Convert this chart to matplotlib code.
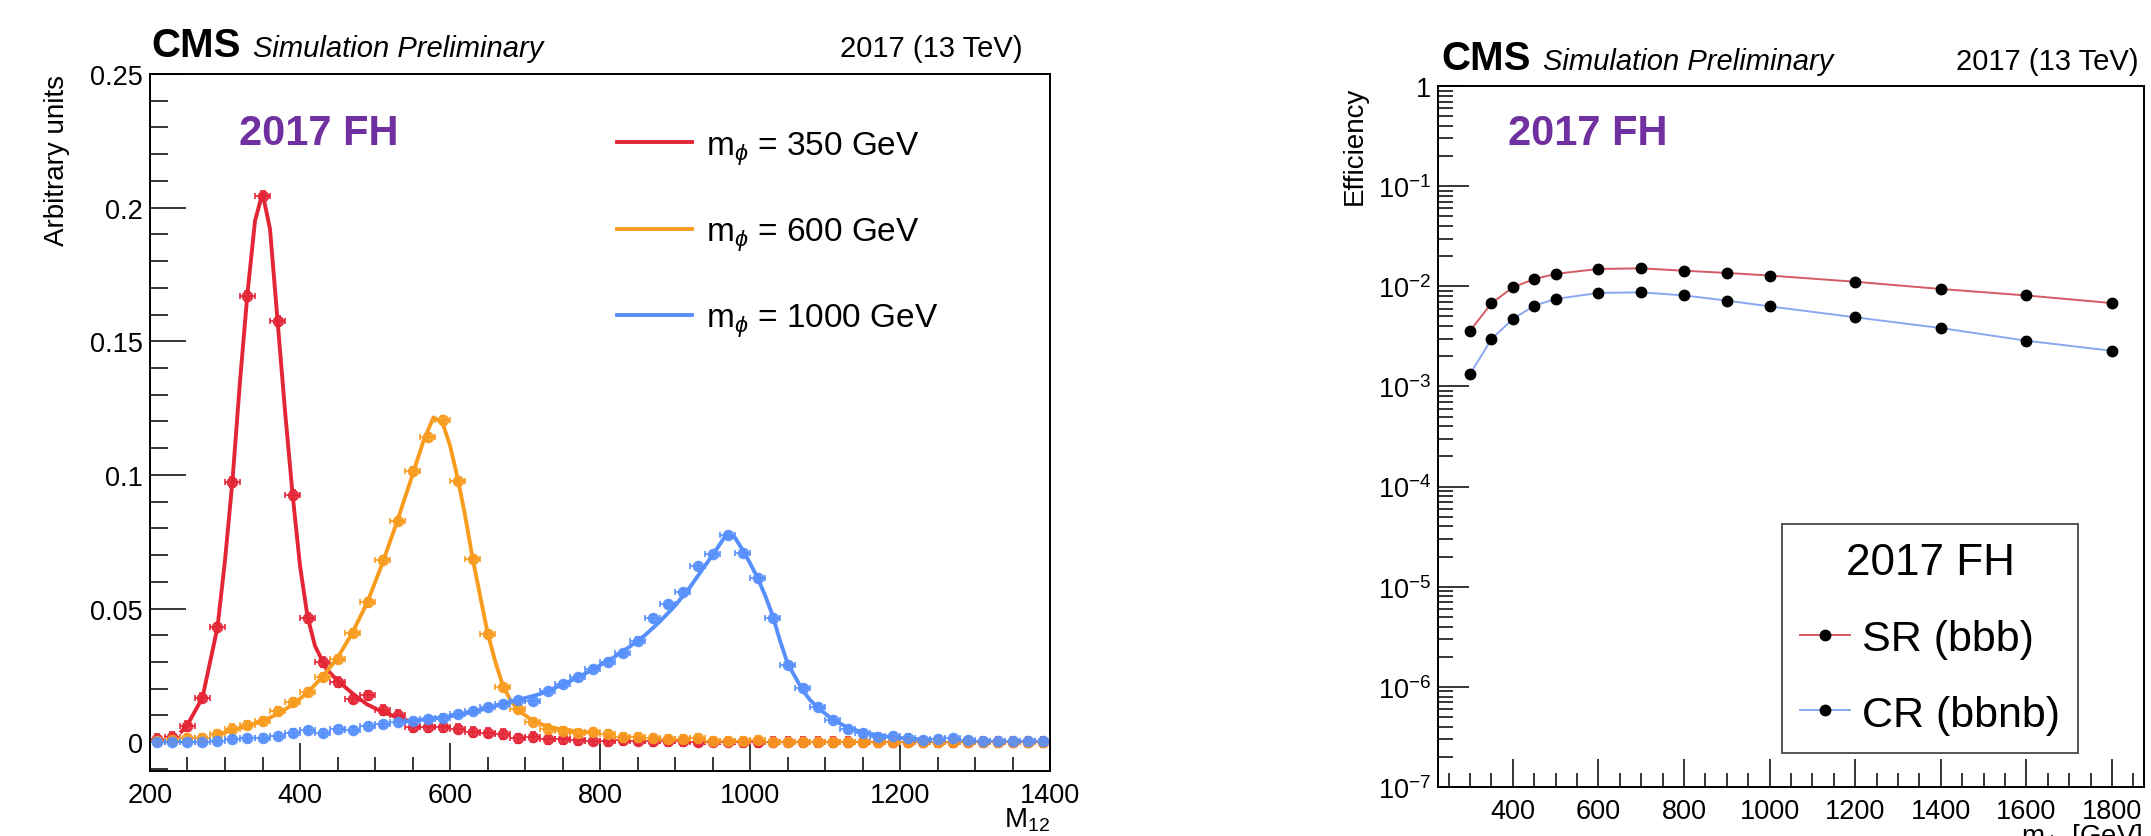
import matplotlib
matplotlib.use('Agg')
import matplotlib.pyplot as plt
from matplotlib.ticker import MultipleLocator, FixedLocator, FuncFormatter, LogLocator, NullFormatter
import numpy as np

plt.rcParams['font.family'] = ['Liberation Sans', 'DejaVu Sans']
plt.rcParams['mathtext.fontset'] = 'custom'
plt.rcParams['mathtext.rm'] = 'Liberation Sans'
plt.rcParams['mathtext.it'] = 'Liberation Sans:italic'
plt.rcParams['mathtext.bf'] = 'Liberation Sans:bold'

# ---- left panel: M12 shapes, 20 GeV bins from 200 to 1400 ----
binCenters = np.arange(210, 1400, 20)

m350 = [0.0011, 0.0020, 0.0060, 0.0167, 0.0429, 0.0974, 0.1669, 0.2043, 0.1576, 0.0925,
        0.0464, 0.0300, 0.0226, 0.0163, 0.0175, 0.0121, 0.0101, 0.0055, 0.0057, 0.0055,
        0.0051, 0.0039, 0.0036, 0.0030, 0.0014, 0.0020, 0.0011, 0.0011, 0.0009, 0.0006,
        0.0004, 0.0008, 0.0006, 0.0004, 0.0003, 0.0003, 0.0002, 0.0002, 0.0002, 0.0001,
        0.0001, 0.0001, 0.0001, 0.0001, 0.0001, 0.0001, 0.0000, 0.0000, 0.0000, 0.0000,
        0.0000, 0.0000, 0.0000, 0.0000, 0.0000, 0.0000, 0.0000, 0.0000, 0.0000, 0.0000]
m600 = [0.0005, 0.0007, 0.0014, 0.0017, 0.0030, 0.0051, 0.0064, 0.0080, 0.0117, 0.0151,
        0.0186, 0.0242, 0.0310, 0.0407, 0.0525, 0.0681, 0.0828, 0.1015, 0.1142, 0.1205,
        0.0978, 0.0687, 0.0404, 0.0207, 0.0123, 0.0076, 0.0051, 0.0042, 0.0036, 0.0039,
        0.0032, 0.0021, 0.0021, 0.0014, 0.0011, 0.0011, 0.0016, 0.0005, 0.0005, 0.0005,
        0.0007, 0.0002, 0.0002, 0.0002, 0.0002, 0.0002, 0.0002, 0.0002, 0.0001, 0.0001,
        0.0001, 0.0001, 0.0001, 0.0001, 0.0001, 0.0001, 0.0001, 0.0001, 0.0001, 0.0001]
m1000 = [0.0001, 0.0001, 0.0001, 0.0002, 0.0005, 0.0011, 0.0015, 0.0017, 0.0024, 0.0036,
         0.0046, 0.0036, 0.0049, 0.0046, 0.0059, 0.0067, 0.0074, 0.0080, 0.0086, 0.0092,
         0.0105, 0.0117, 0.0130, 0.0142, 0.0158, 0.0155, 0.0192, 0.0217, 0.0242, 0.0273,
         0.0298, 0.0334, 0.0380, 0.0463, 0.0516, 0.0560, 0.0660, 0.0703, 0.0774, 0.0706,
         0.0616, 0.0466, 0.0288, 0.0202, 0.0132, 0.0082, 0.0049, 0.0034, 0.0021, 0.0024,
         0.0017, 0.0007, 0.0011, 0.0014, 0.0009, 0.0005, 0.0005, 0.0003, 0.0003, 0.0003]
binErr = {'350': 0.0018, '600': 0.0015, '1000': 0.0012}

# fitted curves
fit350X = [242, 250, 270, 290, 300, 310, 320, 330, 340, 350, 360, 370, 380, 390, 400,
           410, 420, 435, 450, 471, 489, 507, 524, 542]
fit350Y = [0.004, 0.0065, 0.0167, 0.043, 0.068, 0.098, 0.135, 0.168, 0.195, 0.2055,
           0.192, 0.158, 0.124, 0.093, 0.066, 0.047, 0.036, 0.0275, 0.023, 0.018,
           0.0142, 0.0117, 0.0099, 0.0082]
fit600X = [289, 310, 330, 350, 370, 390, 410, 430, 450, 470, 490, 510, 530, 550, 565,
           578, 590, 600, 610, 620, 630, 640, 650, 660, 670, 680, 690, 710, 730, 750,
           770, 795]
fit600Y = [0.0028, 0.0045, 0.006, 0.0079, 0.0105, 0.014, 0.0185, 0.0245, 0.0315, 0.041,
           0.0525, 0.067, 0.083, 0.100, 0.113, 0.1215, 0.1195, 0.111, 0.099, 0.085,
           0.069, 0.055, 0.041, 0.0305, 0.0215, 0.016, 0.0122, 0.008, 0.0058, 0.0047,
           0.004, 0.0035]
fit1000X = [540, 560, 580, 600, 620, 640, 660, 680, 700, 720, 740, 760, 780, 800, 820,
            840, 860, 880, 900, 920, 940, 955, 968, 980, 990, 1000, 1010, 1020, 1030,
            1040, 1050, 1060, 1070, 1080, 1090, 1110, 1130, 1150, 1170, 1190, 1210, 1240]
fit1000Y = [0.0077, 0.0083, 0.0089, 0.0097, 0.0107, 0.012, 0.0135, 0.015, 0.0165, 0.018,
            0.0203, 0.0228, 0.0256, 0.0287, 0.032, 0.0358, 0.040, 0.0452, 0.051, 0.058,
            0.066, 0.072, 0.0775, 0.0765, 0.072, 0.067, 0.0615, 0.055, 0.0475, 0.038,
            0.0295, 0.0245, 0.0195, 0.0158, 0.013, 0.0085, 0.0055, 0.0037, 0.0026,
            0.0018, 0.0013, 0.0009]

# ---- right panel: efficiencies ----
massPoints = [300, 350, 400, 450, 500, 600, 700, 800, 900, 1000, 1200, 1400, 1600, 1800]
effSR = [0.0036, 0.00676, 0.00977, 0.0118, 0.0133, 0.0149, 0.0151, 0.0143, 0.0136,
         0.0128, 0.0111, 0.0094, 0.0081, 0.0068]
effCR = [0.00133, 0.00297, 0.00471, 0.0064, 0.00747, 0.00858, 0.0087, 0.0081, 0.0072,
         0.0063, 0.0049, 0.00383, 0.00286, 0.00227]

W, H = 2151, 837
red, orange, blue = '#e42536', '#f89c20', '#5790fc'
purple = '#7030a0'
tickSize = 19.5


def px(x, y):
    return x / W, 1 - y / H


def styleAxes(ax):
    for s in ax.spines.values():
        s.set_linewidth(1.4)
    ax.tick_params(which='both', direction='in', top=False, right=False,
                   labelsize=tickSize, width=1.1)


def cmsHeader(xLeft, xRight, yBase):
    fig.text(*px(xLeft, yBase), 'CMS', fontweight='bold', fontsize=29, va='baseline')
    fig.text(*px(xLeft + 102, yBase), 'Simulation Preliminary', style='italic',
             fontsize=21, va='baseline')
    fig.text(*px(xRight, yBase), '2017 (13 TeV)', fontsize=21, ha='right', va='baseline')


fig = plt.figure(figsize=(W / 100, H / 100), dpi=100)

# left panel
ax1 = fig.add_axes([150 / W, (H - 772) / H, 900 / W, 697 / H])
series = [(m350, binErr['350'], fit350X, fit350Y, red, '350'),
          (m600, binErr['600'], fit600X, fit600Y, orange, '600'),
          (m1000, binErr['1000'], fit1000X, fit1000Y, blue, '1000')]
handles = []
for vals, err, fx, fy, col, lab in series:
    ax1.errorbar(binCenters, vals, xerr=10, yerr=err, fmt='o', color=col,
                 ms=7.3, elinewidth=1.3, capsize=2, capthick=1.3, alpha=0.9)
    h, = ax1.plot(fx, fy, color=col, lw=2.8)
    handles.append((h, r'm$_{\phi}$ = %s GeV' % lab))
ax1.set_xlim(200, 1400)
ax1.set_ylim(-0.0108, 0.25)
ax1.xaxis.set_major_locator(MultipleLocator(200))
ax1.xaxis.set_minor_locator(MultipleLocator(50))
ax1.yaxis.set_major_locator(MultipleLocator(0.05))
ax1.yaxis.set_minor_locator(MultipleLocator(0.01))
ax1.yaxis.set_major_formatter(FuncFormatter(lambda v, p: f'{v:g}'))
styleAxes(ax1)
ax1.tick_params(axis='x', which='major', length=20, pad=8)
ax1.tick_params(axis='x', which='minor', length=10)
ax1.tick_params(axis='y', which='major', length=26, pad=5)
ax1.tick_params(axis='y', which='minor', length=13)
ax1.legend([h for h, _ in handles], [l for _, l in handles], frameon=False,
           loc='upper left', bbox_to_anchor=px(617, 130), bbox_transform=fig.transFigure,
           fontsize=24, handlelength=2.25, handletextpad=0.42, labelspacing=1.46,
           borderpad=0, borderaxespad=0)

fig.text(*px(57, 75), 'Arbitrary units', rotation=90, ha='center', va='top', fontsize=20)
fig.text(*px(1050, 828), r'M$_{12}$', ha='right', va='baseline', fontsize=20)
cmsHeader(151, 1023, 57)
fig.text(*px(239, 145), '2017 FH', color=purple, fontweight='bold', fontsize=30,
         va='baseline')

# right panel
ax2 = fig.add_axes([1438 / W, (H - 788) / H, 706 / W, 701 / H])
ax2.set_yscale('log')
ax2.plot(massPoints, effSR, color='#d45a64', lw=1.4, marker='o', ms=7.5,
         mfc='black', mec='black', label='SR (bbb)')
ax2.plot(massPoints, effCR, color='#8aa8f0', lw=1.4, marker='o', ms=7.5,
         mfc='black', mec='black', label='CR (bbnb)')
ax2.set_xlim(225, 1875)
ax2.set_ylim(1e-7, 1)
ax2.xaxis.set_major_locator(FixedLocator([400, 600, 800, 1000, 1200, 1400, 1600, 1800]))
ax2.xaxis.set_minor_locator(MultipleLocator(50))
ax2.yaxis.set_major_locator(LogLocator(base=10, numticks=20))
ax2.yaxis.set_minor_locator(LogLocator(base=10, subs=np.arange(2, 10), numticks=20))
ax2.yaxis.set_minor_formatter(NullFormatter())
ax2.yaxis.set_major_formatter(FuncFormatter(
    lambda v, p: '1' if abs(v - 1) < 1e-9 else r'$\mathregular{10^{%d}}$' % round(np.log10(v))))
styleAxes(ax2)
ax2.tick_params(axis='x', which='major', length=20, pad=8)
ax2.tick_params(axis='x', which='minor', length=10)
ax2.tick_params(axis='y', which='major', length=22, pad=5)
ax2.tick_params(axis='y', which='minor', length=11)
leg = ax2.legend(loc='upper left', bbox_to_anchor=px(1782, 525),
                 bbox_transform=fig.transFigure, title='2017 FH', title_fontsize=31.7,
                 fontsize=31, handlelength=1.16, handletextpad=0.28, labelspacing=0.83,
                 borderpad=0.42, borderaxespad=0, fancybox=False, framealpha=1,
                 edgecolor='#555555', numpoints=1)
leg.get_frame().set_linewidth(1.4)

fig.text(*px(1355, 87), 'Efficiency', rotation=90, ha='center', va='top', fontsize=20)
fig.text(*px(2142, 845), r'm$_{\phi}$  [GeV]', ha='right', va='baseline', fontsize=20)
cmsHeader(1441, 2139, 70)
fig.text(*px(1508, 145), '2017 FH', color=purple, fontweight='bold', fontsize=30,
         va='baseline')

fig.savefig('out.png', dpi=100)
